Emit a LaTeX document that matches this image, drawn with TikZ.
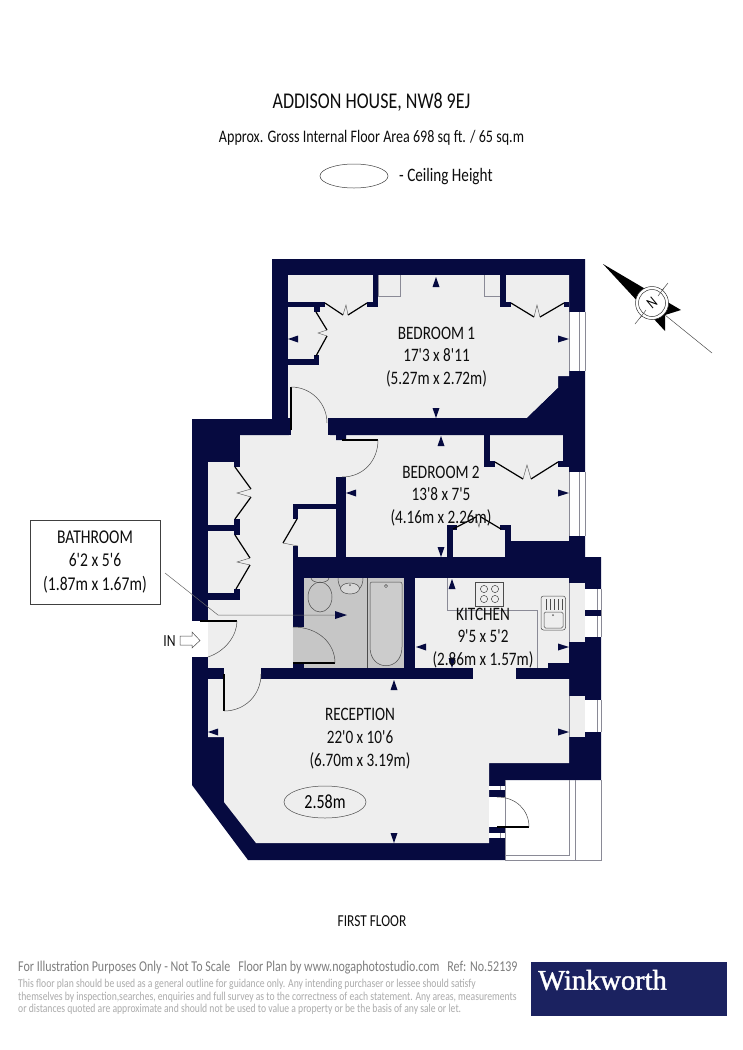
\documentclass[tikz,border=0pt]{standalone}
\usepackage{fontspec}
\usetikzlibrary{shapes.geometric}
\setmainfont[FakeStretch=0.8]{Carlito}
\newfontfamily\plainf[FakeStretch=0.8]{Carlito}
\newfontfamily\wink[FakeBold=1.4]{Liberation Serif}
\definecolor{navy}{HTML}{060A40}
\definecolor{floorg}{HTML}{EEEEEE}
\definecolor{wetgrey}{HTML}{C6C6C6}
\definecolor{lineg}{HTML}{8A8A96}
\definecolor{foot}{HTML}{7E7E7E}
\definecolor{foots}{HTML}{ABABAB}
\definecolor{winkb}{HTML}{1B2260}
\tikzset{
  wall/.style={fill=navy,draw=none},
  room/.style={fill=floorg,draw=none},
  leaf/.style={draw=black,line width=1.2pt},
  swing/.style={draw=black!70,line width=0.5pt},
  zig/.style={draw=black!65,line width=0.45pt},
  fix/.style={draw=black!70,line width=0.5pt},
  glass/.style={draw=lineg,line width=0.7pt},
  tick/.style={fill=navy,draw=none},
  label/.style={align=center,inner sep=0pt,text=black!95,font=\plainf\fontsize{19}{22.7}\selectfont},
}
\newcommand{\tup}[2]{\fill[tick] (#1-3.5,#2+10) -- (#1+3.5,#2+10) -- (#1,#2) -- cycle;}
\newcommand{\tdn}[2]{\fill[tick] (#1-3.5,#2-10) -- (#1+3.5,#2-10) -- (#1,#2) -- cycle;}
\newcommand{\tlf}[2]{\fill[tick] (#1+10,#2-3.5) -- (#1+10,#2+3.5) -- (#1,#2) -- cycle;}
\newcommand{\trt}[2]{\fill[tick] (#1-11,#2-3.5) -- (#1-11,#2+3.5) -- (#1,#2) -- cycle;}
\begin{document}
\begin{tikzpicture}[x=1pt,y=-1pt]
\useasboundingbox (0,0) rectangle (742,1050);
\fill[white] (0,0) rectangle (742,1050);
% header
\node[inner sep=0pt,text=black!95,font=\fontsize{22.5}{22.5}\selectfont] (title) at (371.5,102) {ADDISON HOUSE, NW8 9EJ};
\node[inner sep=0pt,text=black!95,font=\fontsize{17.6}{17.6}\selectfont] (area) at (371.5,138) {Approx. Gross Internal Floor Area 698 sq ft. / 65 sq.m};
\node[draw=black!75,line width=0.5pt,ellipse,minimum width=68pt,minimum height=24pt,inner sep=0pt] (legend) at (354,176) {};
\node[anchor=west,inner sep=0pt,text=black!95,font=\fontsize{19}{19}\selectfont] (ceil) at (399,176.5) {- Ceiling Height};
% outer shell
\fill[wall] (272,259) -- (585,259) -- (585,557) -- (601,557) -- (601,780) -- (505,780) -- (505,860) -- (248,860) -- (192,785) -- (192,419) -- (272,419) -- cycle;
% rooms
\fill[room] (288,275) -- (569,275) -- (569,376) -- (558,376) -- (558,388) -- (527,418) -- (288,418) -- cycle; % bedroom 1
\fill[room] (346,435) rectangle (569,557); % bedroom 2
\fill[room] (291,417) rectangle (328,436); % door gap
\fill[room] (240,435) -- (330,435) -- (336,435) -- (336,440) -- (346,440) -- (346,477) -- (336,477) -- (336,557) -- (293,557) -- (293,668) -- (208,668) -- (208,462) -- (240,462) -- cycle; % hall
\fill[room] (293,627) rectangle (304,668);
\fill[room] (415,578) rectangle (569,668); % kitchen
\fill[wetgrey] (304,578) rectangle (404,668);
\fill[wetgrey] (293,627) rectangle (304,664);
\fill[room] (224,667) rectangle (261,680);
\fill[room] (473,667) rectangle (516,680);
\fill[room] (208,679) -- (569,679) -- (569,763) -- (489,763) -- (489,843) -- (256,843) -- (224,802) -- (224,737) -- (208,737) -- cycle; % reception
% inner walls
\fill[wall] (328,419) -- (328,430) -- (330,430) -- (330,435) -- (336,435) -- (336,440) -- (346,440) -- (346,435) -- (569,435) -- (569,418) -- (328,418) -- cycle;
\fill[wall] (288,418) -- (291,418) -- (291,430) -- (289,430) -- (289,435) -- (240,435) -- (240,419) -- (288,419) -- cycle;
\fill[wall] (527,418) -- (558,388) -- (569,388) -- (569,418) -- cycle;
\fill[wall] (288,302) rectangle (325,307);
\fill[wall] (314,307) rectangle (320,312);
\fill[wall] (373,275) rectangle (378,307);
\fill[wall] (367,302) rectangle (378,307);
\fill[wall] (288,359) rectangle (319,365);
\fill[wall] (314,355) rectangle (319,360);
\fill[wall] (500,275) rectangle (506,307);
\fill[wall] (500,302) rectangle (511,307);
\fill[wall] (564,302) rectangle (569,307);
\fill[wall] (484,435) rectangle (490,467);
\fill[wall] (484,461) rectangle (495,467);
\fill[wall] (558,461) rectangle (569,467);
\fill[wall] (563,435) rectangle (569,461);
\fill[wall] (447,525) rectangle (453,557);
\fill[wall] (447,525) rectangle (457,530);
\fill[wall] (505,525) rectangle (511,557);
\fill[wall] (500,525) rectangle (511,530);
\fill[wall] (511,541) rectangle (569,557);
\fill[wall] (336,477) rectangle (346,557);
\fill[wall] (293,504) rectangle (336,509);
\fill[wall] (293,504) rectangle (298,519);
\fill[wall] (293,546) rectangle (298,557);
\fill[wall] (293,557) rectangle (569,578);
\fill[wall] (293,578) rectangle (304,627);
\fill[wall] (293,664) rectangle (304,668);
\fill[wall] (404,578) rectangle (415,668);
\fill[wall] (208,525) rectangle (234,531);
\fill[wall] (234,519) rectangle (240,535);
\fill[wall] (234,462) rectangle (240,467);
\fill[wall] (208,593) rectangle (240,600);
\fill[wall] (234,589) rectangle (240,600);
\fill[wall] (208,668) rectangle (224,679);
\fill[wall] (261,668) rectangle (473,679);
\fill[wall] (516,668) rectangle (569,679);
\fill[wall] (548,663) rectangle (569,668);
% windows
\fill[white] (569,312) rectangle (585,371);
\fill[white] (569,472) rectangle (585,536);
\draw[glass] (569.4,312) -- (569.4,371) (579,312) -- (579,371) (585,312) -- (585,371);
\draw[glass] (569.4,472) -- (569.4,536) (579,472) -- (579,536) (585,472) -- (585,536);
\fill[room] (569,583) rectangle (585,642);
\fill[white] (585,589) rectangle (601,637);
\fill[wall] (585,610) rectangle (601,616);
\draw[glass] (597,589) -- (597,610) (597,616) -- (597,637) (601,589) -- (601,637);
\draw[glass] (569.4,583) -- (569.4,642);
\fill[room] (569,696) rectangle (585,737);
\fill[white] (585,700) rectangle (601,732);
\draw[glass] (597,700) -- (597,732) (601,700) -- (601,732);
\draw[glass] (569.4,696) -- (569.4,737);
% entrance gap
\fill[white] (192,621) rectangle (208,657);
% balcony
\fill[white] (489,797) rectangle (505,827);
\fill[white] (489,786) rectangle (505,790);
\fill[white] (489,833) rectangle (505,838);
\draw[glass,line width=0.4pt] (500,786) -- (500,790) (500,833) -- (500,838);
\draw[glass] (505,780) -- (505,860) -- (601,860) -- (601,780);
\draw[glass] (505,855) -- (569,855) -- (569,780) (575,780) -- (575,860);
% doors
\draw[leaf] (200,621) -- (237,621);
\draw[swing] (237,621) .. controls (237,635) and (226,651) .. (208,657);
\draw[leaf] (224,674) -- (224,711);
\draw[swing] (224,711) .. controls (245,711) and (261,695) .. (261,674);
\draw[leaf] (291,387) -- (291,430);
\draw[swing] (291,387) .. controls (311,387) and (327,403) .. (327,423);
\draw[leaf] (342,440) -- (378,440);
\draw[swing] (378,440) .. controls (378,460) and (364,477) .. (342,477);
\draw[leaf] (293,663) -- (335,663);
\draw[swing] (335,663) .. controls (335,643) and (318,627) .. (293,627);
\draw[leaf] (497,827) -- (529,827);
\draw[swing] (529,827) .. controls (529,810) and (516,797) .. (497,797);
% folding doors
\draw[leaf] (325,303) -- (343,315) (348,315) -- (367,303);
\draw[zig] (343,315) -- (346,305) -- (348,315);
\draw[leaf] (316,312) -- (327,330) (327,336) -- (316,356);
\draw[zig] (327,330) -- (318,333) -- (327,336);
\draw[leaf] (511,303) -- (534,317) (540,317) -- (564,303);
\draw[zig] (534,317) -- (537,305) -- (540,317);
\draw[leaf] (495,462) -- (523,479) (531,479) -- (558,462);
\draw[zig] (523,479) -- (527,465) -- (531,479);
\draw[leaf] (453,529) -- (476,517) (481,517) -- (501,529);
\draw[zig] (476,517) -- (479,527) -- (481,517);
\draw[leaf] (235,467) -- (251,489) (251,497) -- (235,519);
\draw[zig] (251,489) -- (237,493) -- (251,497);
\draw[leaf] (235,535) -- (250,558) (250,565) -- (236,589);
\draw[zig] (250,558) -- (237,562) -- (250,565);
\draw[leaf] (297,519) -- (283,543);
\draw[zig] (283,543) -- (298,546);
% cupboard square
\draw[glass] (378,275) -- (378,296) -- (400,296) -- (400,275);
\draw[glass] (484,275) -- (484,296) -- (500,296);
% bathroom fixtures
\draw[fix,fill=wetgrey] (320,597) ellipse (12 and 15);
\draw[fix] (311,578) .. controls (312,584) and (328,584) .. (329,578);
\draw[fix] (338,578) .. controls (338,598) and (363,598) .. (363,578);
\draw[fix,fill=wetgrey!70!white] (350,588.5) ellipse (9.5 and 5.5);
\fill[black!60] (350,585) circle (1);
\draw[fix] (367,578) -- (367,668);
\draw[fix,rounded corners=2pt,fill=wetgrey!90!white] (370,582) -- (402,582) -- (402,645) .. controls (402,672) and (370,672) .. (370,645) -- cycle;
\draw[fix] (386,586) circle (1.6);
% kitchen fixtures
\draw[glass] (447,578) -- (447,610) -- (537,610) -- (537,668);
\draw[fix,fill=floorg] (475,582) rectangle (503,606);
\foreach \p in {(484,589),(495,589),(484,599),(495,599)} \draw[fix] \p circle (3.6);
\draw[fix,rounded corners=2.5pt] (541,596) rectangle (565.5,630);
\draw[fix,rounded corners=1.5pt] (544,612) rectangle (563,628);
\foreach \x in {546,550,554,558,562} \draw[fix] (\x,599) -- (\x,610);
\fill[black!60] (553,615) circle (1);
% leader
\draw[draw=black!60,line width=0.5pt] (165,573) -- (218,615) -- (340,615);
\fill[tick] (335,611) -- (335,619) -- (347,615) -- cycle;
% dimension ticks
\tup{436}{277}\tdn{436}{418}\tlf{288}{339}\trt{569}{339}
\tup{441}{436}\tlf{346}{493}\trt{569}{493}\tdn{441}{557}
\tup{452}{579}\tdn{452}{668}\tlf{416}{647}\trt{569}{647}
\tup{394}{680}\tdn{394}{843}\tlf{208}{732}\trt{569}{732}
% labels
\node[label] (b1) at (436.5,357) {BEDROOM 1\\17'3 x 8'11\\(5.27m x 2.72m)};
\node[label] (b2) at (441,496) {BEDROOM 2\\13'8 x 7'5\\(4.16m x 2.26m)};
\node[label] (ki) at (483,638) {KITCHEN\\9'5 x 5'2\\(2.86m x 1.57m)};
\node[label] (re) at (360,738.5) {RECEPTION\\22'0 x 10'6\\(6.70m x 3.19m)};
\node[draw=black!70,line width=0.5pt,ellipse,minimum width=82pt,minimum height=32pt,inner sep=0pt,font=\fontsize{20}{20}\selectfont] (hgt) at (325,802) {2.58m};
\node[draw=black!75,line width=0.6pt,fill=white,minimum width=130pt,minimum height=84pt,inner sep=0pt,align=center,font=\plainf\fontsize{19.5}{23.5}\selectfont,text=black!95] (bath) at (95,562) {BATHROOM\\6'2 x 5'6\\(1.87m x 1.67m)};
% entrance arrow
\node[inner sep=0pt,font=\fontsize{17}{17}\selectfont,text=black!95] (in) at (169.5,641) {IN};
\draw[fix,fill=white] (180,636) -- (192,636) -- (192,632) -- (200,640.5) -- (192,648) -- (192,645) -- (180,645) -- cycle;
% compass
\fill[black] (603,264) -- (681,310) -- (665,315) -- (665,331) -- cycle;
\draw[black!70,line width=0.5pt] (635,324) -- (668,283);
\draw[black!70,line width=0.5pt] (665,315) -- (712,353);
\draw[black!80,line width=0.5pt,fill=white] (652,303) circle (16.5);
\draw[black!80,line width=0.5pt] (652,303) circle (13.5);
\draw[black!70,line width=0.5pt] (640,318) -- (646,310) (658,296) -- (664,288);
\node[inner sep=0pt,rotate=40,font=\fontsize{16}{16}\selectfont] (north) at (652,303) {N};
% floor name
\node[inner sep=0pt,font=\fontsize{16.7}{16.7}\selectfont,text=black!95] (ff) at (372,921) {FIRST FLOOR};
% footer
\node[anchor=west,inner sep=0pt,text=foot,font=\fontsize{15}{15}\selectfont] (f1) at (18,968) {For Illustration Purposes Only - Not To Scale\hspace{8pt}Floor Plan by www.nogaphotostudio.com\hspace{8pt}Ref: No.52139};
\node[anchor=north west,inner sep=0pt,text=foots,align=left,font=\fontsize{12.05}{12.6}\selectfont] (f2) at (18,979) {This floor plan should be used as a general outline for guidance only. Any intending purchaser or lessee should satisfy\\themselves by inspection,searches, enquiries and full survey as to the correctness of each statement. Any areas, measurements\\or distances quoted are approximate and should not be used to value a property or be the basis of any sale or let.};
\node[fill=winkb,minimum width=196pt,minimum height=54pt,inner sep=0pt] (wb) at (629,989) {};
\node[anchor=west,inner sep=0pt,text=white,font=\wink\fontsize{28.5}{28.5}\selectfont] (wt) at (538,980) {Winkworth};
\end{tikzpicture}
\end{document}
